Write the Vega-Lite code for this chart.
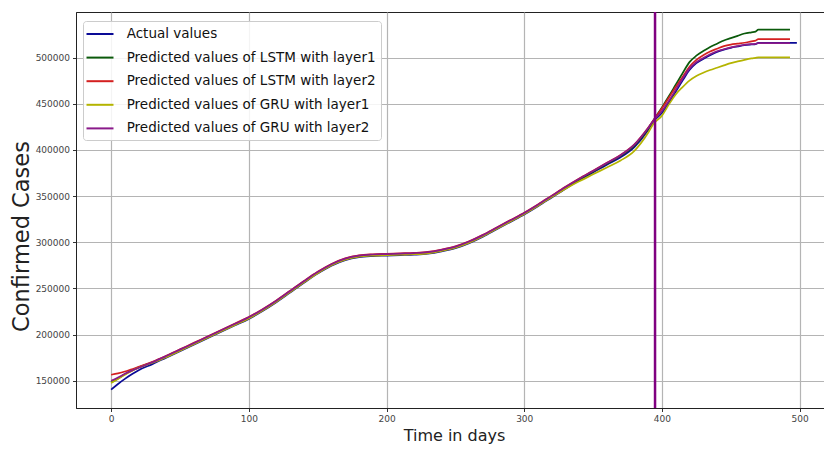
{
  "$schema": "https://vega.github.io/schema/vega-lite/v6.json",
  "autosize": {"type": "none"},
  "padding": {"left": 76, "top": 12, "right": 0, "bottom": 41},
  "width": 748,
  "height": 396,
  "background": "white",
  "config": {
    "font": "DejaVu Sans",
    "view": {"stroke": "#222", "strokeWidth": 1},
    "axis": {
      "labelFontSize": 9,
      "labelColor": "#444",
      "tickColor": "#333",
      "tickSize": 3.5,
      "labelPadding": 3,
      "domainColor": "#222",
      "gridColor": "#b4b4b4",
      "gridWidth": 1.2,
      "titleFontWeight": "normal",
      "titleColor": "#222"
    }
  },
  "layer": [
    {
      "data": {
        "values": [
          {"day": 0, "actual": 140300, "lstm1": 148200, "lstm2": 156500, "gru1": 147500, "gru2": 150000},
          {"day": 5, "actual": 146500, "lstm1": 152500, "lstm2": 158000, "gru1": 152000, "gru2": 153500},
          {"day": 10, "actual": 152000, "lstm1": 157000, "lstm2": 160000, "gru1": 156500, "gru2": 157500},
          {"day": 15, "actual": 157000, "lstm1": 161000, "lstm2": 162500, "gru1": 160500, "gru2": 161000},
          {"day": 20, "actual": 161500, "lstm1": 164500, "lstm2": 165000, "gru1": 164000, "gru2": 164000},
          {"day": 30, "actual": 168000, "lstm1": 170000, "lstm2": 170500, "gru1": 169500, "gru2": 170000},
          {"day": 40, "actual": 175000, "lstm1": 176200, "lstm2": 177000, "gru1": 175500, "gru2": 176700},
          {"day": 50, "actual": 182000, "lstm1": 183200, "lstm2": 184000, "gru1": 182500, "gru2": 183700},
          {"day": 60, "actual": 189000, "lstm1": 190200, "lstm2": 191000, "gru1": 189500, "gru2": 190700},
          {"day": 70, "actual": 196000, "lstm1": 197200, "lstm2": 198000, "gru1": 196500, "gru2": 197700},
          {"day": 80, "actual": 203000, "lstm1": 204200, "lstm2": 205000, "gru1": 203500, "gru2": 204700},
          {"day": 90, "actual": 210000, "lstm1": 211200, "lstm2": 212000, "gru1": 210500, "gru2": 211700},
          {"day": 100, "actual": 217000, "lstm1": 218200, "lstm2": 219000, "gru1": 217500, "gru2": 218700},
          {"day": 110, "actual": 225500, "lstm1": 226700, "lstm2": 227500, "gru1": 226000, "gru2": 227200},
          {"day": 120, "actual": 235000, "lstm1": 236200, "lstm2": 237000, "gru1": 235500, "gru2": 236700},
          {"day": 130, "actual": 245500, "lstm1": 246700, "lstm2": 247500, "gru1": 246000, "gru2": 247200},
          {"day": 140, "actual": 256000, "lstm1": 257200, "lstm2": 258000, "gru1": 256500, "gru2": 257700},
          {"day": 150, "actual": 266000, "lstm1": 267200, "lstm2": 268000, "gru1": 266500, "gru2": 267700},
          {"day": 160, "actual": 274500, "lstm1": 275700, "lstm2": 276500, "gru1": 275000, "gru2": 276200},
          {"day": 170, "actual": 280500, "lstm1": 281700, "lstm2": 282500, "gru1": 281000, "gru2": 282200},
          {"day": 180, "actual": 283800, "lstm1": 285000, "lstm2": 285800, "gru1": 284300, "gru2": 285500},
          {"day": 190, "actual": 285000, "lstm1": 286200, "lstm2": 287000, "gru1": 285500, "gru2": 286700},
          {"day": 200, "actual": 285500, "lstm1": 286700, "lstm2": 287500, "gru1": 286000, "gru2": 287200},
          {"day": 210, "actual": 286000, "lstm1": 287200, "lstm2": 288000, "gru1": 286500, "gru2": 287700},
          {"day": 220, "actual": 286500, "lstm1": 287700, "lstm2": 288500, "gru1": 287000, "gru2": 288200},
          {"day": 230, "actual": 287500, "lstm1": 288700, "lstm2": 289500, "gru1": 288000, "gru2": 289200},
          {"day": 240, "actual": 290000, "lstm1": 291200, "lstm2": 292000, "gru1": 290500, "gru2": 291700},
          {"day": 250, "actual": 293500, "lstm1": 294700, "lstm2": 295500, "gru1": 294000, "gru2": 295200},
          {"day": 260, "actual": 299000, "lstm1": 300200, "lstm2": 301000, "gru1": 299500, "gru2": 300700},
          {"day": 270, "actual": 306000, "lstm1": 307200, "lstm2": 308000, "gru1": 306500, "gru2": 307700},
          {"day": 280, "actual": 314000, "lstm1": 315200, "lstm2": 316000, "gru1": 314500, "gru2": 315700},
          {"day": 290, "actual": 322000, "lstm1": 323200, "lstm2": 324000, "gru1": 322500, "gru2": 323700},
          {"day": 300, "actual": 330000, "lstm1": 331200, "lstm2": 332000, "gru1": 330500, "gru2": 331700},
          {"day": 310, "actual": 339000, "lstm1": 340200, "lstm2": 341000, "gru1": 339500, "gru2": 340700},
          {"day": 320, "actual": 348500, "lstm1": 349700, "lstm2": 350500, "gru1": 349000, "gru2": 350200},
          {"day": 330, "actual": 358000, "lstm1": 359200, "lstm2": 360000, "gru1": 358000, "gru2": 359700},
          {"day": 340, "actual": 367000, "lstm1": 368200, "lstm2": 369000, "gru1": 366000, "gru2": 368700},
          {"day": 350, "actual": 375500, "lstm1": 376700, "lstm2": 377500, "gru1": 373500, "gru2": 377200},
          {"day": 360, "actual": 384000, "lstm1": 385200, "lstm2": 386000, "gru1": 381000, "gru2": 385700},
          {"day": 370, "actual": 392000, "lstm1": 393500, "lstm2": 394500, "gru1": 388500, "gru2": 394200},
          {"day": 380, "actual": 403000, "lstm1": 404500, "lstm2": 406000, "gru1": 399000, "gru2": 405700},
          {"day": 390, "actual": 421500, "lstm1": 423000, "lstm2": 424000, "gru1": 418500, "gru2": 423700},
          {"day": 394, "actual": 431000, "lstm1": 432500, "lstm2": 432300, "gru1": 428500, "gru2": 432000},
          {"day": 400, "actual": 440000, "lstm1": 446000, "lstm2": 445000, "gru1": 437000, "gru2": 442000},
          {"day": 405, "actual": 451000, "lstm1": 458000, "lstm2": 456500, "gru1": 449000, "gru2": 453000},
          {"day": 410, "actual": 463000, "lstm1": 470500, "lstm2": 468000, "gru1": 460000, "gru2": 465000},
          {"day": 415, "actual": 475000, "lstm1": 483000, "lstm2": 479000, "gru1": 468000, "gru2": 477000},
          {"day": 420, "actual": 486500, "lstm1": 495000, "lstm2": 490000, "gru1": 475000, "gru2": 488000},
          {"day": 425, "actual": 494000, "lstm1": 502000, "lstm2": 497500, "gru1": 480000, "gru2": 495000},
          {"day": 430, "actual": 498500, "lstm1": 507000, "lstm2": 502500, "gru1": 483500, "gru2": 499500},
          {"day": 435, "actual": 502500, "lstm1": 511500, "lstm2": 506500, "gru1": 486500, "gru2": 503500},
          {"day": 440, "actual": 506000, "lstm1": 515000, "lstm2": 509500, "gru1": 489000, "gru2": 506800},
          {"day": 445, "actual": 508500, "lstm1": 518500, "lstm2": 512300, "gru1": 491500, "gru2": 509000},
          {"day": 450, "actual": 510500, "lstm1": 521000, "lstm2": 514000, "gru1": 494000, "gru2": 511000},
          {"day": 455, "actual": 512000, "lstm1": 523500, "lstm2": 515000, "gru1": 495800, "gru2": 512500},
          {"day": 460, "actual": 513400, "lstm1": 526000, "lstm2": 516000, "gru1": 497500, "gru2": 513800},
          {"day": 465, "actual": 514200, "lstm1": 527300, "lstm2": 517500, "gru1": 499000, "gru2": 514500},
          {"day": 468, "actual": 514600, "lstm1": 528000, "lstm2": 518300, "gru1": 499700, "gru2": 514800},
          {"day": 470, "actual": 515800, "lstm1": 530300, "lstm2": 520000, "gru1": 500200, "gru2": 515600},
          {"day": 480, "actual": 515800, "lstm1": 530300, "lstm2": 520000, "gru1": 500200, "gru2": 515600},
          {"day": 490, "actual": 515800, "lstm1": 530300, "lstm2": 520000, "gru1": 500200, "gru2": 515600},
          {"day": 493, "actual": 515800, "lstm1": 530300, "lstm2": 520000, "gru1": 500200, "gru2": 515600},
          {"day": 498, "actual": 515800, "lstm1": null, "lstm2": null, "gru1": null, "gru2": null}
        ]
      },
      "transform": [
        {"fold": ["actual", "lstm1", "lstm2", "gru1", "gru2"], "as": ["series", "value"]},
        {"filter": "datum.value != null"}
      ],
      "mark": {"type": "line", "strokeWidth": 1.7, "interpolate": "monotone"},
      "encoding": {
        "x": {
          "field": "day", "type": "quantitative",
          "scale": {"domain": [-25.5, 517.7], "nice": false, "zero": false},
          "axis": {"values": [0, 100, 200, 300, 400, 500], "title": "Time in days", "titleFontSize": 16, "titlePadding": 4, "titleX": 378, "labelFlush": false}
        },
        "y": {
          "field": "value", "type": "quantitative",
          "scale": {"domain": [120500, 549300], "nice": false, "zero": false},
          "axis": {"values": [150000, 200000, 250000, 300000, 350000, 400000, 450000, 500000], "format": "d", "title": "Confirmed Cases", "titleFontSize": 22.5, "titlePadding": 2, "titleY": 224, "labelFlush": false}
        },
        "color": {
          "field": "series", "type": "nominal",
          "scale": {
            "domain": ["actual", "lstm1", "lstm2", "gru1", "gru2"],
            "range": ["#0a0a96", "#0b5a0b", "#d42020", "#b4b400", "#8a1a8a"]
          },
          "legend": {
            "title": null,
            "orient": "none",
            "legendX": 7,
            "legendY": 9,
            "symbolType": "M-2,0H2",
            "symbolSize": 182,
            "symbolStrokeWidth": 2,
            "symbolOffset": 4,
            "labelFontSize": 13.5,
            "labelColor": "#111",
            "labelOffset": 18.7,
            "labelLimit": 0,
            "rowPadding": 8.6,
            "padding": 5,
            "strokeColor": "#cccccc",
            "fillColor": "rgba(255,255,255,0.85)",
            "cornerRadius": 3,
            "labelExpr": "datum.label == 'actual' ? 'Actual values' : datum.label == 'lstm1' ? 'Predicted values of LSTM with layer1' : datum.label == 'lstm2' ? 'Predicted values of LSTM with layer2' : datum.label == 'gru1' ? 'Predicted values of GRU with layer1' : 'Predicted values of GRU with layer2'"
          }
        }
      }
    },
    {
      "data": {"values": [{"day": 395}]},
      "mark": {"type": "rule", "color": "#800080", "strokeWidth": 2.5},
      "encoding": {"x": {"field": "day", "type": "quantitative"}}
    }
  ]
}
